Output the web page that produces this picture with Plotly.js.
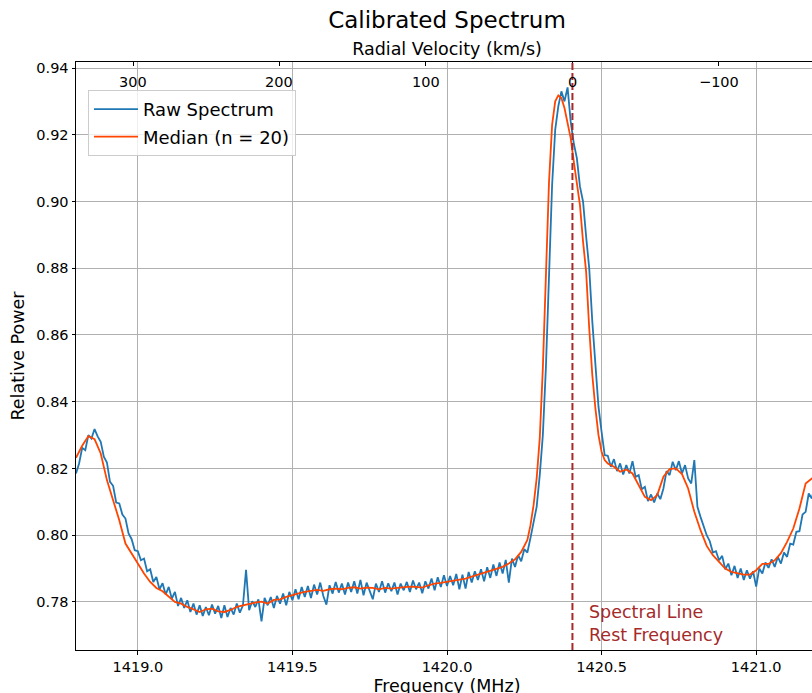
<!DOCTYPE html>
<html>
<head>
<meta charset="utf-8">
<script src="https://cdn.plot.ly/plotly-3.0.1.min.js"></script>
<style>
html, body { margin: 0; padding: 0; overflow: hidden; background: #fff; }
#chart { width: 840px; height: 710px; }
</style>
</head>
<body>
<div id="chart"></div>
<script>
// ---- data ----
const restFreq = 1420.405751;      // MHz, HI line rest frequency
const speedOfLight = 299792.458;   // km/s
const freqStart = 1418.80;         // first raw channel (MHz)
const freqStep = 0.01;             // raw channel spacing (MHz)
const freqRange = [1418.80, 1421.20];
const powerRange = [0.7656, 0.9418];

const rawPower = [
  0.8185,0.8215,0.8262,0.8255,0.8300,0.8290,0.8318,0.8296,0.8280,0.8235,
  0.8218,0.8160,0.8148,0.8098,0.8095,0.8062,0.8050,0.8005,0.7988,0.7955,
  0.7952,0.7925,0.7930,0.7892,0.7898,0.7860,0.7875,0.7838,0.7856,0.7822,
  0.7845,0.7810,0.7830,0.7788,0.7812,0.7782,0.7805,0.7770,0.7795,0.7762,
  0.7790,0.7758,0.7785,0.7760,0.7792,0.7765,0.7788,0.7752,0.7790,0.7755,
  0.7782,0.7762,0.7795,0.7768,0.7790,0.7896,0.7775,0.7802,0.7785,0.7808,
  0.7742,0.7812,0.7790,0.7815,0.7782,0.7818,0.7795,0.7825,0.7790,0.7830,
  0.7805,0.7838,0.7808,0.7845,0.7815,0.7848,0.7812,0.7852,0.7822,0.7858,
  0.7818,0.7792,0.7850,0.7825,0.7860,0.7828,0.7855,0.7822,0.7858,0.7830,
  0.7862,0.7825,0.7866,0.7820,0.7858,0.7835,0.7808,0.7855,0.7830,0.7862,
  0.7828,0.7856,0.7832,0.7858,0.7822,0.7855,0.7835,0.7860,0.7830,0.7864,
  0.7838,0.7858,0.7826,0.7862,0.7840,0.7870,0.7835,0.7874,0.7845,0.7880,
  0.7848,0.7878,0.7850,0.7884,0.7838,0.7882,0.7840,0.7890,0.7858,0.7892,
  0.7866,0.7898,0.7862,0.7904,0.7872,0.7912,0.7878,0.7918,0.7885,0.7926,
  0.7858,0.7930,0.7905,0.7940,0.7922,0.7958,0.7948,0.7992,0.8042,0.8085,
  0.8180,0.8300,0.8505,0.8775,0.9050,0.9215,0.9285,0.9330,0.9300,0.9342,
  0.9240,0.9175,0.9130,0.9045,0.9000,0.8895,0.8800,0.8640,0.8495,0.8385,
  0.8310,0.8240,0.8238,0.8205,0.8228,0.8192,0.8215,0.8182,0.8210,0.8185,
  0.8222,0.8175,0.8180,0.8138,0.8145,0.8102,0.8122,0.8098,0.8125,0.8108,
  0.8140,0.8192,0.8180,0.8220,0.8195,0.8222,0.8185,0.8210,0.8170,0.8155,
  0.8225,0.8085,0.8055,0.8028,0.8000,0.7982,0.7948,0.7952,0.7925,0.7938,
  0.7898,0.7915,0.7880,0.7908,0.7872,0.7900,0.7866,0.7895,0.7870,0.7892,
  0.7846,0.7900,0.7885,0.7918,0.7902,0.7928,0.7905,0.7935,0.7915,0.7948,
  0.7935,0.7975,0.7972,0.8010,0.8012,0.8062,0.8070,0.8125,0.8110,0.8150,
  0.8160
];

const medianFreq = [
  1418.80,1418.82,1418.84,1418.86,1418.88,1418.90,1418.92,1418.94,1418.96,1418.98,
  1419.00,1419.02,1419.04,1419.06,1419.08,1419.10,1419.12,1419.14,1419.16,1419.18,
  1419.20,1419.22,1419.24,1419.26,1419.28,1419.30,1419.32,1419.34,1419.36,1419.38,
  1419.40,1419.42,1419.44,1419.46,1419.48,1419.50,1419.52,1419.54,1419.56,1419.58,
  1419.60,1419.62,1419.64,1419.66,1419.68,1419.70,1419.72,1419.74,1419.76,1419.78,
  1419.80,1419.82,1419.84,1419.86,1419.88,1419.90,1419.92,1419.94,1419.96,1419.98,
  1420.00,1420.02,1420.04,1420.06,1420.08,1420.10,1420.12,1420.14,1420.16,1420.18,
  1420.20,1420.22,1420.24,1420.26,1420.27,1420.28,1420.29,1420.30,1420.31,1420.32,
  1420.33,1420.34,1420.35,1420.36,1420.37,1420.38,1420.39,1420.40,1420.41,1420.42,
  1420.43,1420.44,1420.45,1420.46,1420.47,1420.48,1420.49,1420.50,1420.51,1420.52,
  1420.54,1420.56,1420.58,1420.60,1420.62,1420.64,1420.66,1420.68,1420.70,1420.72,
  1420.74,1420.76,1420.78,1420.80,1420.82,1420.84,1420.86,1420.88,1420.90,1420.92,
  1420.94,1420.96,1420.98,1421.00,1421.02,1421.04,1421.06,1421.08,1421.10,1421.12,
  1421.14,1421.16,1421.18,1421.20
];
const medianPower = [
  0.8232,0.8268,0.8297,0.8288,0.8245,0.8165,0.8105,0.8045,0.7975,0.7945,
  0.7915,0.7885,0.7860,0.7842,0.7832,0.7815,0.7800,0.7795,0.7785,0.7778,
  0.7770,0.7778,0.7780,0.7772,0.7770,0.7776,0.7785,0.7790,0.7795,0.7798,
  0.7801,0.7795,0.7806,0.7808,0.7815,0.7821,0.7826,0.7830,0.7832,0.7836,
  0.7833,0.7838,0.7840,0.7838,0.7842,0.7844,0.7840,0.7843,0.7842,0.7838,
  0.7842,0.7840,0.7842,0.7845,0.7846,0.7845,0.7843,0.7850,0.7855,0.7857,
  0.7860,0.7862,0.7866,0.7870,0.7876,0.7882,0.7888,0.7893,0.7898,0.7905,
  0.7915,0.7928,0.7950,0.7986,0.8030,0.8090,0.8170,0.8290,0.8500,0.8780,
  0.9060,0.9230,0.9300,0.9318,0.9310,0.9280,0.9235,0.9190,0.9120,0.9055,
  0.8990,0.8880,0.8790,0.8620,0.8480,0.8380,0.8300,0.8250,0.8225,0.8215,
  0.8205,0.8190,0.8197,0.8185,0.8150,0.8115,0.8105,0.8120,0.8175,0.8198,
  0.8200,0.8183,0.8140,0.8070,0.8015,0.7968,0.7940,0.7920,0.7900,0.7890,
  0.7886,0.7882,0.7882,0.7895,0.7914,0.7914,0.7925,0.7946,0.7980,0.8020,
  0.8080,0.8155,0.8170,0.8180
];

const freqTicks = [1419.0, 1419.5, 1420.0, 1420.5, 1421.0];
const velocityTicks = [300, 200, 100, 0, -100];
const velocityTickLabels = ['300', '200', '100', '0', '\u2212100'];
const powerTicks = [0.78, 0.80, 0.82, 0.84, 0.86, 0.88, 0.90, 0.92, 0.94];

// ---- derived ----
const rawFreq = rawPower.map((_, i) => +(freqStart + i * freqStep).toFixed(4));
const toVelocity = f => speedOfLight * (restFreq - f) / restFreq;
const velocityRange = [toVelocity(freqRange[0]), toVelocity(freqRange[1])];

const FONT = 'DejaVu Sans, sans-serif';
const brown = '#a52a2a';

const traces = [
  {
    x: rawFreq, y: rawPower, type: 'scatter', mode: 'lines',
    name: 'Raw Spectrum', legendgroup: 'a',
    line: {color: '#1f77b4', width: 1.8}
  },
  {
    x: medianFreq, y: medianPower, type: 'scatter', mode: 'lines',
    name: 'Median (n = 20)', legendgroup: 'b',
    line: {color: '#ff4500', width: 1.8}
  },
  {
    x: velocityRange, y: [null, null], xaxis: 'x2', yaxis: 'y',
    type: 'scatter', mode: 'lines', showlegend: false, hoverinfo: 'skip'
  }
];

const velocityLabelAnnotations = velocityTicks.map((v, i) => ({
  xref: 'x2', yref: 'paper', x: v, y: 1, yshift: -20,
  xanchor: 'center', yanchor: 'middle', showarrow: false,
  text: velocityTickLabels[i],
  font: {family: FONT, size: 14.5, color: '#000'}
}));

const layout = {
  width: 840, height: 710,
  margin: {l: 76, r: 22, t: 62, b: 60},
  paper_bgcolor: '#fff', plot_bgcolor: '#fff',
  font: {family: FONT, color: '#000', size: 14.5},
  title: {
    text: 'Calibrated Spectrum',
    font: {family: FONT, size: 23, color: '#000'},
    x: 76 + 742 / 2, xref: 'paper', xanchor: 'center',
    y: 1 - 20 / 710, yref: 'container', yanchor: 'middle'
  },
  showlegend: true,
  legend: {
    x: 12 / 742, y: 1 - 28 / 588, xanchor: 'left', yanchor: 'top',
    bgcolor: 'rgba(255,255,255,0.8)', bordercolor: '#cccccc', borderwidth: 1,
    font: {family: FONT, size: 18, color: '#000'},
    tracegroupgap: 1, itemwidth: 44
  },
  xaxis: {
    range: freqRange, tickvals: freqTicks, tickformat: '.1f',
    ticks: 'outside', ticklen: 3.5, tickwidth: 1, tickcolor: '#000',
    showline: true, linecolor: '#000', linewidth: 1,
    showgrid: true, gridcolor: '#b0b0b0', gridwidth: 1, zeroline: false,
    tickfont: {family: FONT, size: 14.5, color: '#000'},
    title: {text: 'Frequency (MHz)', font: {family: FONT, size: 17.5, color: '#000'}, standoff: 5},
    automargin: false
  },
  xaxis2: {
    overlaying: 'x', side: 'top', anchor: 'y',
    range: velocityRange, tickvals: velocityTicks,
    ticks: 'inside', ticklen: 3.5, tickwidth: 1, tickcolor: '#000',
    showticklabels: false,
    showline: true, linecolor: '#000', linewidth: 1,
    showgrid: false, zeroline: false,
    title: {text: 'Radial Velocity (km/s)', font: {family: FONT, size: 17.5, color: '#000'}, standoff: 0},
    automargin: false
  },
  yaxis: {
    range: powerRange, tickvals: powerTicks, tickformat: '.2f',
    ticks: 'outside', ticklen: 3.5, tickwidth: 1, tickcolor: '#000',
    showline: true, linecolor: '#000', linewidth: 1, mirror: true,
    showgrid: true, gridcolor: '#b0b0b0', gridwidth: 1, zeroline: false,
    tickfont: {family: FONT, size: 14.5, color: '#000'},
    title: {text: 'Relative Power', font: {family: FONT, size: 17.5, color: '#000'}, standoff: 7},
    automargin: false
  },
  shapes: [{
    type: 'line', xref: 'x', yref: 'paper',
    x0: restFreq, x1: restFreq, y0: 0, y1: 1,
    line: {color: brown, width: 2, dash: '7px,3px'}
  }],
  annotations: velocityLabelAnnotations.concat([{
    xref: 'x', yref: 'y',
    x: restFreq + 0.048, y: 0.7736,
    xanchor: 'left', yanchor: 'middle', align: 'left',
    text: 'Spectral Line<br>Rest Frequency', showarrow: false,
    font: {family: FONT, size: 17.5, color: brown}
  }])
};

Plotly.newPlot('chart', traces, layout, {displayModeBar: false, staticPlot: true});
</script>
</body>
</html>
